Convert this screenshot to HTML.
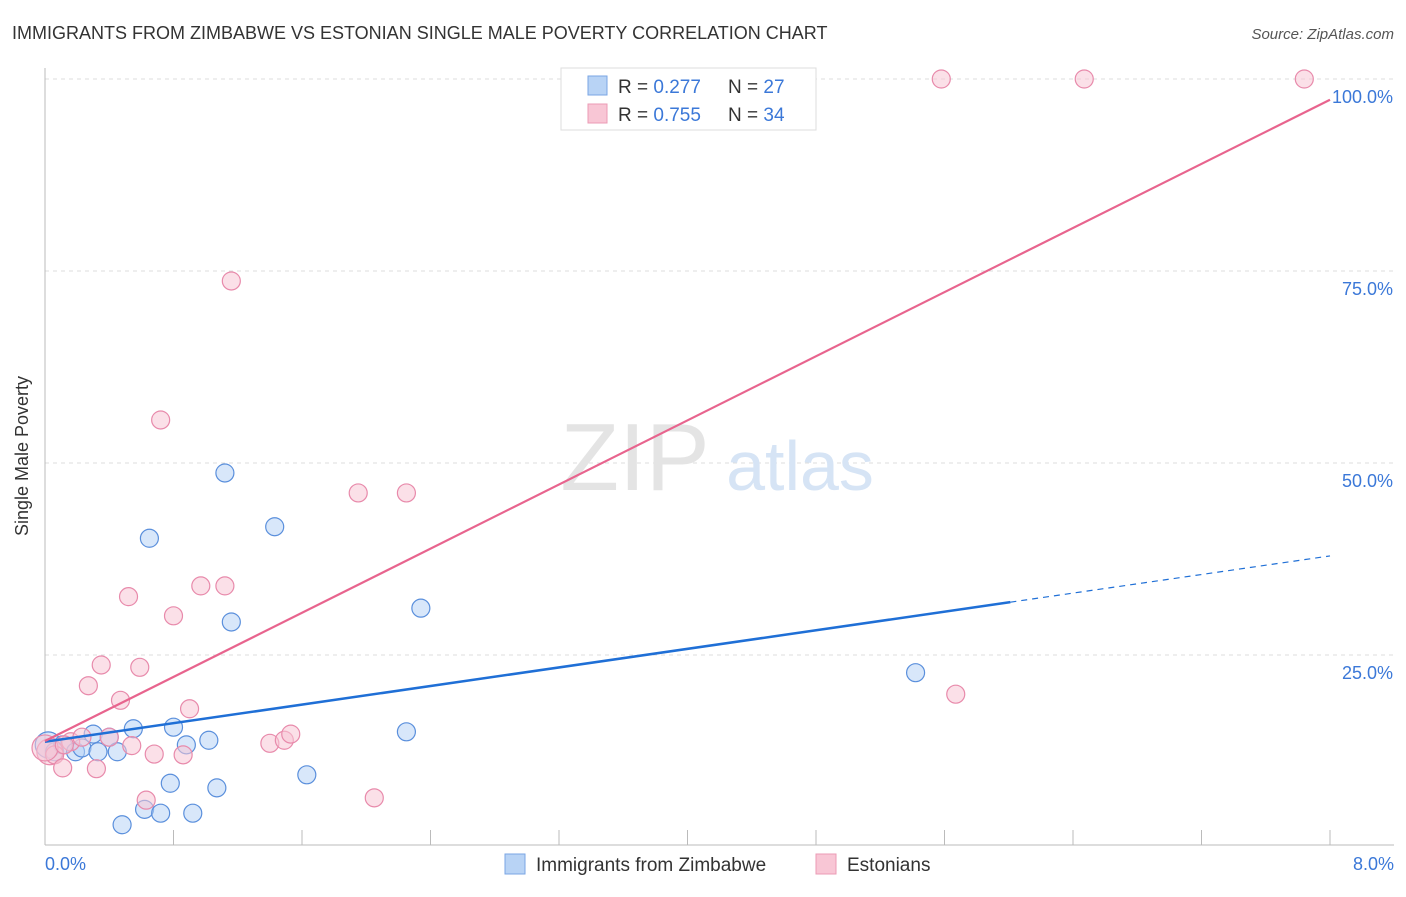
<!DOCTYPE html>
<html><head><meta charset="utf-8"><style>
body{margin:0;background:#fff;font-family:"Liberation Sans",sans-serif}
svg text{font-family:"Liberation Sans",sans-serif}
</style></head><body>
<svg width="1406" height="892">
<text x="12" y="39" font-size="18" fill="#333">IMMIGRANTS FROM ZIMBABWE VS ESTONIAN SINGLE MALE POVERTY CORRELATION CHART</text>
<text x="1394" y="39" font-size="15" fill="#555" font-style="italic" text-anchor="end">Source: ZipAtlas.com</text>
<g id="grid"></g>
<text x="635" y="490" font-size="96" fill="#e4e4e4" font-family="Liberation Serif" text-anchor="middle">ZIP</text>
<text x="800" y="490" font-size="70" fill="#d6e4f5" text-anchor="middle">atlas</text>
<line x1="45" y1="68" x2="45" y2="845" stroke="#bbb"/>
<line x1="45" y1="845" x2="1394" y2="845" stroke="#bbb"/>
<g id="ticks"></g>
<text x="28" y="456" font-size="18" fill="#333" transform="rotate(-90 28 456)" text-anchor="middle">Single Male Poverty</text>
<text x="45" y="870" font-size="18" fill="#3b78d8">0.0%</text>
<text x="1394" y="870" font-size="18" fill="#3b78d8" text-anchor="end">8.0%</text>
<g id="points"></g>
<g id="lines"></g>
<g>
<rect x="561" y="68" width="255" height="62" fill="#fff" stroke="#ddd"/>
<rect x="588" y="76" width="19" height="19" fill="#b8d3f5" stroke="#7aa6e4"/>
<rect x="588" y="104" width="19" height="19" fill="#f8c6d5" stroke="#eb9bb5"/>
<text x="618" y="93" font-size="19" fill="#333">R = <tspan fill="#3b78d8">0.277</tspan><tspan x="728">N = </tspan><tspan fill="#3b78d8">27</tspan></text>
<text x="618" y="121" font-size="19" fill="#333">R = <tspan fill="#3b78d8">0.755</tspan><tspan x="728">N = </tspan><tspan fill="#3b78d8">34</tspan></text>
</g>
<g>
<rect x="505" y="854" width="20" height="20" fill="#b8d3f5" stroke="#7aa6e4"/>
<text x="536" y="871" font-size="19" fill="#333">Immigrants from Zimbabwe</text>
<rect x="816" y="854" width="20" height="20" fill="#f8c6d5" stroke="#eb9bb5"/>
<text x="847" y="871" font-size="19" fill="#333">Estonians</text>
</g>
</svg>
<script>
const yTicks=[25,50,75,100];
const yTickLabels=["25.0%","50.0%","75.0%","100.0%"];
const xTicks=[0.8,1.6,2.4,3.2,4.0,4.8,5.6,6.4,7.2,8.0];
const blueX=[0.02,0.06,0.11,0.19,0.23,0.30,0.33,0.40,0.45,0.55,0.65,0.48,0.62,0.72,0.78,0.80,0.88,0.92,1.02,1.07,1.12,1.16,1.43,1.63,2.25,2.34,5.42];
const blueY=[13.3,12.4,13.3,12.4,12.9,14.7,12.4,14.3,12.4,15.4,40.2,2.9,4.9,4.4,8.3,15.6,13.3,4.4,13.9,7.7,48.7,29.3,41.7,9.4,15.0,31.1,22.7];
const pinkX=[0.03,0.06,0.11,0.16,0.23,0.27,0.32,0.35,0.40,0.47,0.52,0.54,0.59,0.63,0.68,0.72,0.80,0.86,0.90,0.97,1.12,1.16,1.40,1.49,1.53,1.95,2.05,2.25,5.58,5.67,6.47,7.84,0.0,0.12];
const pinkY=[12.4,12.0,10.3,13.7,14.3,21.0,10.2,23.7,14.3,19.1,32.6,13.2,23.4,6.1,12.1,55.6,30.1,12.0,18.0,34.0,34.0,73.7,13.5,13.9,14.7,46.1,6.4,46.1,100,19.9,100,100,12.9,13.3];
const blueTrend=[13.7,37.9];
const blueSolidEnd=6.01;
const pinkTrend=[13.8,97.3];
const xs=v=>45+v/8*1285;
const ys=v=>847-v/25*192;
const NS="http://www.w3.org/2000/svg";
function mk(t,a,p){const e=document.createElementNS(NS,t);for(const k in a)e.setAttribute(k,a[k]);p.appendChild(e);return e;}
const grid=document.getElementById('grid');
yTicks.forEach((t,i)=>{
 const l=mk('line',{x1:45,x2:1394,y1:ys(t),y2:ys(t),stroke:'#ddd','stroke-dasharray':'4,4'},grid);
 
 
 const tx=mk('text',{x:1393,y:ys(t)+24,'font-size':18,fill:'#3b78d8','text-anchor':'end'},grid);
 tx.textContent=yTickLabels[i];
 
 
});
const ticks=document.getElementById('ticks');
xTicks.forEach(t=>{
 const l=mk('line',{x1:xs(t),x2:xs(t),y1:830,y2:845,stroke:'#bbb'},ticks);
 
 
});
const pts=document.getElementById('points');
function dots(X,Y,fill,stroke,name){
 X.forEach((x,i)=>{
  const c=mk('circle',{cx:xs(x),cy:ys(Y[i]),r:(x<0.05?13:9),fill:fill,'fill-opacity':0.55,stroke:stroke,'stroke-width':1.2},pts);
  
  
 });
}
dots(blueX,blueY,'#b8d3f5','#5a8fdc','zimbabwe-point');
dots(pinkX,pinkY,'#f8c6d5','#e88aab','estonian-point');
const lines=document.getElementById('lines');
const bAt=x=>blueTrend[0]+(blueTrend[1]-blueTrend[0])*x/8;
let l=mk('line',{x1:xs(0),y1:ys(bAt(0)),x2:xs(blueSolidEnd),y2:ys(bAt(blueSolidEnd)),stroke:'#1f6fd6','stroke-width':2.5},lines);


l=mk('line',{x1:xs(blueSolidEnd),y1:ys(bAt(blueSolidEnd)),x2:xs(8),y2:ys(bAt(8)),stroke:'#1f6fd6','stroke-width':1.2,'stroke-dasharray':'6,5'},lines);


l=mk('line',{x1:xs(0),y1:ys(pinkTrend[0]),x2:xs(8),y2:ys(pinkTrend[1]),stroke:'#e8648e','stroke-width':2.2},lines);


</script>
</body></html>
